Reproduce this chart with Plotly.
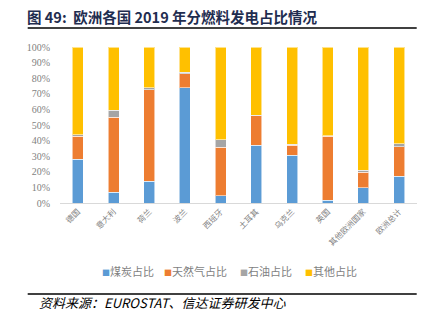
import plotly.graph_objects as go

countries = ["德国", "意大利", "荷兰", "波兰", "西班牙", "土耳其", "乌克兰", "英国", "其他欧洲国家", "欧洲总计"]
coal = [0.280, 0.069, 0.140, 0.738, 0.047, 0.370, 0.306, 0.019, 0.097, 0.170]
gas = [0.148, 0.482, 0.585, 0.090, 0.312, 0.189, 0.064, 0.409, 0.101, 0.191]
oil = [0.009, 0.043, 0.013, 0.009, 0.047, 0.003, 0.007, 0.004, 0.011, 0.018]
other = [round(1 - a - b - c, 3) for a, b, c in zip(coal, gas, oil)]

series = [
    ("煤炭占比", coal, "#5B9BD5"),
    ("天然气占比", gas, "#ED7D31"),
    ("石油占比", oil, "#A5A5A5"),
    ("其他占比", other, "#FFC000"),
]
legend_x = [100, 162, 238, 303]

fig = go.Figure()
for name, vals, col in series:
    fig.add_trace(go.Bar(
        x=countries, y=vals, name=name, showlegend=False,
        marker=dict(color=col, line=dict(color="rgba(255,255,255,0.55)", width=1)),
    ))

W, H = 440, 322
L, R, T, B = 60, 23, 47, 119
pw = W - L - R
ph = H - T - B

def px(x):
    return (x - L) / pw

def py(y):
    return (H - B - y) / ph

annotations = [
    dict(text="<i>资料来源：EUROSTAT、信达证券研发中心</i>", xref="paper", yref="paper",
         x=px(37), y=py(302), xanchor="left", yanchor="middle", showarrow=False,
         font=dict(size=13, color="black", family="Noto Sans CJK SC")),
]
for (name, vals, col), lx in zip(series, legend_x):
    annotations.append(dict(
        text=f"<span style='color:{col};font-size:8px'>■</span>{name}",
        xref="paper", yref="paper", x=px(lx), y=py(271), xanchor="left", yanchor="middle",
        showarrow=False, font=dict(size=11, color="#7F7F7F", family="Noto Sans CJK SC")))

fig.update_layout(
    width=W, height=H,
    barmode="stack", bargap=0.69,
    margin=dict(l=L, r=R, t=T, b=B),
    paper_bgcolor="white", plot_bgcolor="white",
    font=dict(family="Noto Sans CJK SC", color="#7F7F7F"),
    showlegend=False,
    title=dict(text="<b>图 49:  欧洲各国 2019 年分燃料发电占比情况</b>",
               x=27 / W, xanchor="left", xref="container",
               y=1 - 18 / H, yanchor="middle", yref="container",
               font=dict(size=14.5, color="#1F2D50", family="Noto Sans CJK SC")),
    xaxis=dict(showline=True, linecolor="#D9D9D9", linewidth=1, tickangle=-45,
               tickfont=dict(size=8, color="#7F7F7F", family="Noto Sans CJK SC"),
               ticks="", showgrid=False),
    yaxis=dict(range=[0, 1], dtick=0.1, tickformat=".0%", showgrid=False,
               showline=False, zeroline=False, ticks="",
               ticklabelstandoff=9,
               tickfont=dict(size=10, color="#7F7F7F", family="Liberation Serif")),
    shapes=[
        dict(type="line", xref="paper", yref="paper", x0=px(27.7), x1=px(416.7),
             y0=py(28), y1=py(28), line=dict(color="black", width=1.6)),
        dict(type="line", xref="paper", yref="paper", x0=px(27.7), x1=px(416.7),
             y0=py(294), y1=py(294), line=dict(color="black", width=1.6)),
    ],
    annotations=annotations,
)

fig.write_html("out.html")
